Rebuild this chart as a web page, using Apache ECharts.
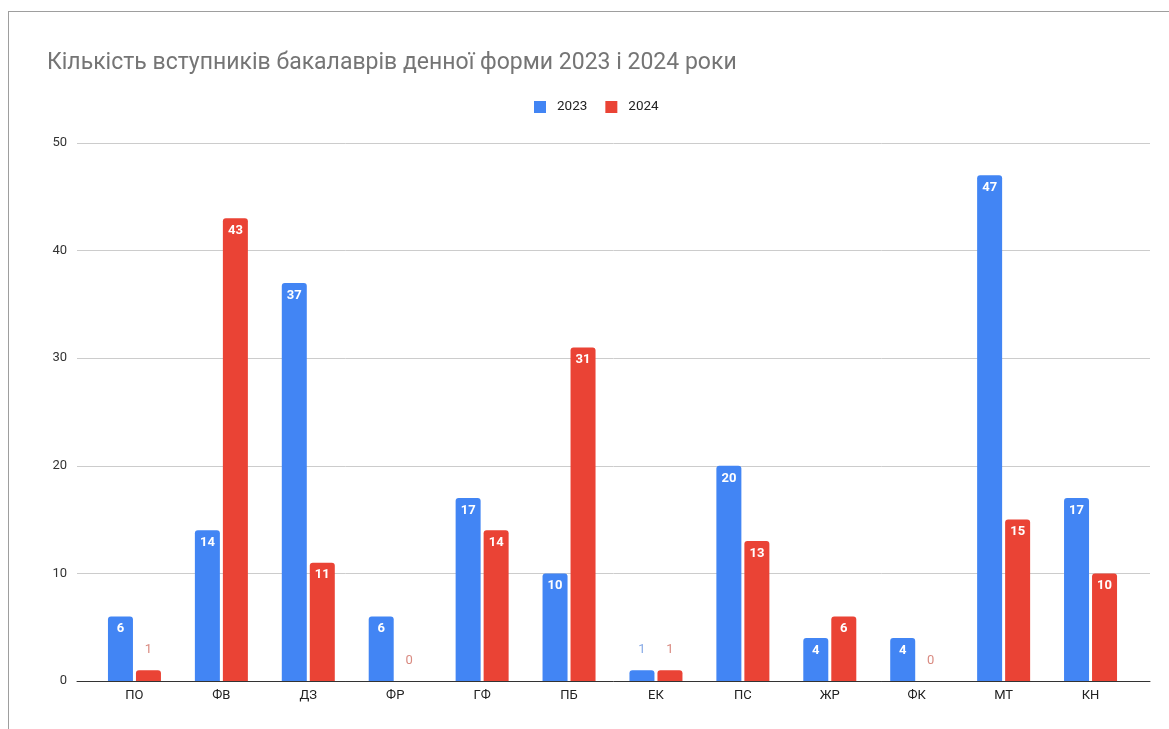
<!DOCTYPE html>
<html>
<head>
<meta charset="utf-8">
<script src="https://cdn.jsdelivr.net/npm/echarts@6/dist/echarts.min.js"></script>
<style>
html,body{margin:0;padding:0;background:#fff;}
#frame{position:absolute;left:8px;top:11px;width:1200px;height:760px;border-left:1.5px solid #9e9e9e;border-top:1.5px solid #9e9e9e;}
#chart{position:absolute;left:0;top:0;width:1169px;height:729px;}
</style>
</head>
<body>
<div id="frame"></div>
<div id="chart"></div>
<script>
const titleText = 'Кількість вступників бакалаврів денної форми 2023 і 2024 роки';
const categories = ['ПО','ФВ','ДЗ','ФР','ГФ','ПБ','ЕК','ПС','ЖР','ФК','МТ','КН'];
const seriesNames = ['2023','2024'];
const values2023 = [6,14,37,6,17,10,1,20,4,4,47,17];
const values2024 = [1,43,11,0,14,31,1,13,6,0,15,10];
const yTicks = [0,10,20,30,40,50];

const colors = ['#4285f4','#ea4335'];
const outsideColors = ['#86a9e6','#d98a80'];

function makeData(vals, idx){
  return vals.map(v => {
    if (v < 2) {
      return {value: v, label: {position: 'top', distance: 14, color: outsideColors[idx], fontWeight: 'normal'}};
    }
    return v;
  });
}

const chart = echarts.init(document.getElementById('chart'));
const gridTop = 143, gridBottom = 729 - 681;
chart.setOption({
  animation: false,
  color: colors,
  title: {
    text: titleText, left: 42, top: 47,
    textStyle: {fontFamily: 'Roboto', fontSize: 23, fontWeight: 'normal', color: '#757575'}
  },
  legend: {
    data: seriesNames, left: 529, top: 95, itemWidth: 12, itemHeight: 12, itemGap: 18,
    icon: 'rect',
    textStyle: {fontFamily: 'Roboto', fontSize: 13.5, color: '#222', padding: [0,0,0,6]}
  },
  grid: [
    {left: 77, right: 19, top: gridTop, bottom: gridBottom},
    {left: 91, right: 35, top: gridTop, bottom: gridBottom}
  ],
  xAxis: [
    {type: 'category', gridIndex: 0, data: categories, show: true,
     axisLine: {show: true, lineStyle: {color: '#333', width: 1}}, axisTick: {show: false}, axisLabel: {show: false}, splitLine: {show: false}},
    {type: 'category', gridIndex: 1, data: categories,
     axisLine: {show: false}, axisTick: {show: false},
     axisLabel: {fontFamily: 'Roboto', fontSize: 13, color: '#222', margin: 8}}
  ],
  yAxis: [
    {type: 'value', gridIndex: 0, min: 0, max: 50, interval: 10,
     axisLine: {show: false}, axisTick: {show: false},
     axisLabel: {fontFamily: 'Roboto', fontSize: 13, color: '#333', margin: 10},
     splitLine: {lineStyle: {color: '#cccccc', width: 1}}},
    {type: 'value', gridIndex: 1, min: 0, max: 50, interval: 10, show: false, splitLine: {show: false}}
  ],
  series: [
    {name: seriesNames[0], type: 'bar', xAxisIndex: 1, yAxisIndex: 1, data: makeData(values2023, 0),
     barWidth: 25, barGap: '12%', itemStyle: {borderRadius: [3,3,0,0]},
     label: {show: true, position: 'insideTop', distance: 6, color: '#fff', fontWeight: 'bold', fontFamily: 'Roboto', fontSize: 13}},
    {name: seriesNames[1], type: 'bar', xAxisIndex: 1, yAxisIndex: 1, data: makeData(values2024, 1),
     barWidth: 25, barGap: '12%', itemStyle: {borderRadius: [3,3,0,0]},
     label: {show: true, position: 'insideTop', distance: 6, color: '#fff', fontWeight: 'bold', fontFamily: 'Roboto', fontSize: 13}}
  ]
});
</script>
</body>
</html>
